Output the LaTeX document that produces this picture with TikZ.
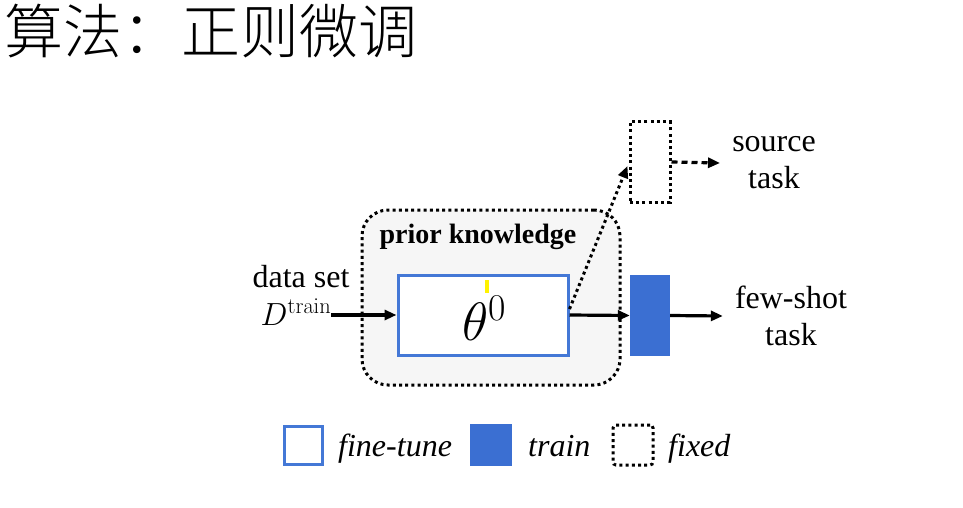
\RequirePackage{fix-cm}
\documentclass[tikz,border=0pt]{standalone}
\usepackage[no-math]{fontspec}
\setmainfont{Liberation Serif}
\newfontfamily\cjk{Noto Sans CJK SC Light}
\usetikzlibrary{arrows.meta}

\definecolor{ftblue}{RGB}{68,120,214}
\definecolor{trblue}{RGB}{59,111,210}
\definecolor{priorgray}{RGB}{246,246,246}

\tikzset{
  fixedline/.style={line width=3pt, dash pattern=on 3pt off 3.2pt},
  ftbox/.style={draw=ftblue, line width=3pt, fill=white, inner sep=0pt},
  trbox/.style={fill=trblue, inner sep=0pt},
  fixedbox/.style={draw, fixedline, inner sep=0pt},
  tip/.style={-{Triangle[length=12pt,width=10pt]}},
  flow/.style={line width=3.2pt, tip},
  lbl/.style={font=\fontsize{32}{37}\selectfont, align=center, inner sep=0pt},
  legend/.style={font=\itshape\fontsize{32}{37}\selectfont, anchor=base west, inner sep=0pt}
}

\begin{document}
\begin{tikzpicture}[x=1pt, y=-1pt]
  \useasboundingbox (0,0) rectangle (963,508);

  % title
  \node[anchor=west, inner sep=0pt, font=\cjk\fontsize{59}{62}\selectfont] (title) at (4,31) {算法：正则微调};

  % prior knowledge
  \node[fixedbox, fill=priorgray, rounded corners=26pt, minimum width=258pt, minimum height=175pt] (prior) at (491,297.5) {};
  \node[font=\bfseries\fontsize{28}{32}\selectfont, anchor=base, inner sep=0pt] (priorlbl) at (478,243) {prior knowledge};
  \node[ftbox, minimum width=170pt, minimum height=80pt] (theta) at (483,315) {};
  \node[anchor=base, inner sep=0pt, font=\fontsize{54}{60}\selectfont] (thetalbl) at (484,340) {$\theta^0$};
  \draw[yellow, line width=4pt] (486.5,280) -- (486.5,293);

  % input
  \node[lbl, anchor=base] (dataset) at (301,287) {data set};
  \node[lbl, anchor=base] (dtrain) at (296,325) {$D^{\mathrm{train}}$};

  % heads
  \node[trbox, minimum width=40pt, minimum height=81pt] (bar) at (650,315.5) {};
  \node[fixedbox, minimum width=40pt, minimum height=80pt] (src) at (650,162) {};

  \node[lbl] (fewshot) at (791,316) {few-shot\\task};
  \node[lbl] (source) at (774,163) {source\\task};

  % arrows
  \draw[flow] (dtrain.east |- theta.west) -- (theta.west);
  \draw[flow] (theta.east) -- (bar.west);
  \draw[flow] (bar.east) -- ([xshift=-12pt]fewshot.west);
  \draw[fixedline, tip] ([yshift=6pt]theta.east) -- ([xshift=-1pt,yshift=-4pt]src.west);
  \draw[line width=3.2pt, dash pattern=on 6pt off 4pt, tip] (src.east) -- ([xshift=-12pt]source.west);

  % legend
  \node[ftbox, minimum width=38pt, minimum height=38pt] (legft) at (303,445) {};
  \node[legend] (legfttxt) at (338,456) {fine-tune};
  \node[trbox, minimum width=42pt, minimum height=42pt] (legtr) at (491,445) {};
  \node[legend] (legtrtxt) at (528,456) {train};
  \node[fixedbox, rounded corners=3pt, minimum width=40pt, minimum height=40pt] (legfx) at (633,445) {};
  \node[legend] (legfxtxt) at (668,456) {fixed};
\end{tikzpicture}
\end{document}
